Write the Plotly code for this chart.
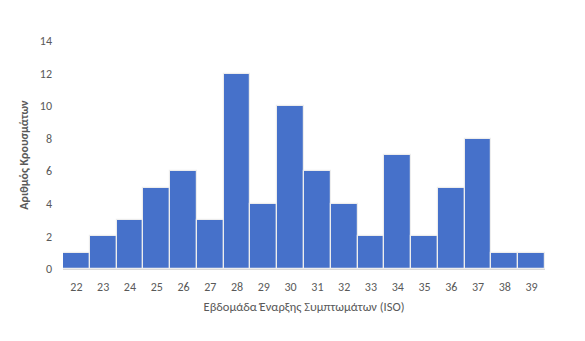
import plotly.graph_objects as go

weeks = [str(w) for w in range(22, 40)]
cases = [1, 2, 3, 5, 6, 3, 12, 4, 10, 6, 4, 2, 7, 2, 5, 8, 1, 1]
y_ticks = [0, 2, 4, 6, 8, 10, 12, 14]

font_family = "Carlito, Calibri, Lato, sans-serif"
text_color = "#595959"

fig = go.Figure()
fig.add_trace(go.Bar(
    x=weeks,
    y=cases,
    marker=dict(color="#4671CA", line=dict(color="#EDEDED", width=1.2)),
    hoverinfo="x+y",
))

fig.update_layout(
    width=585,
    height=341,
    margin=dict(l=63, r=40, t=41, b=72),
    paper_bgcolor="white",
    plot_bgcolor="white",
    bargap=0,
    showlegend=False,
    font=dict(family=font_family, size=12, color=text_color),
)
fig.update_xaxes(
    type="category",
    showgrid=False,
    showline=True,
    linecolor="#D9D9D9",
    linewidth=1,
    ticks="",
    ticklabelstandoff=7,
    tickfont=dict(size=12, color=text_color),
    title=dict(text="Εβδομάδα Έναρξης Συμπτωμάτων (ISO)",
               font=dict(size=12.5, color=text_color), standoff=8),
)
fig.update_yaxes(
    range=[0, 14],
    tickvals=y_ticks,
    showgrid=False,
    zeroline=False,
    showline=False,
    ticks="",
    ticklabelstandoff=10,
    tickfont=dict(size=12, color=text_color),
    title=dict(text="<b>Αριθμός Κρουσμάτων</b>",
               font=dict(size=12, color=text_color), standoff=8),
)

fig.write_html("out.html")
